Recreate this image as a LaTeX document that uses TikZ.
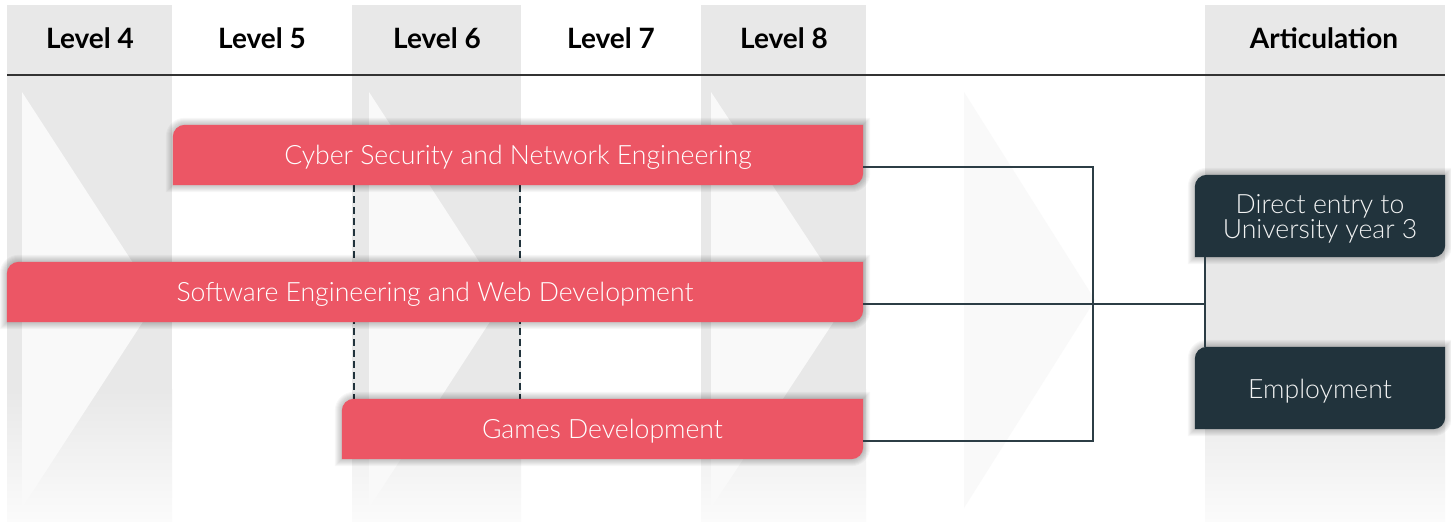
\documentclass[tikz,border=0pt]{standalone}
\usepackage{fontspec}
\setmainfont{Lato}
\newfontfamily\lightfont{Lato Light}
\definecolor{colgray}{HTML}{E8E8E8}
\definecolor{colbot}{HTML}{FBFBFB}
\definecolor{trifill}{HTML}{F9F9F9}
\definecolor{pinkc}{HTML}{EC5665}
\definecolor{darkc}{HTML}{21333C}
\definecolor{linec}{HTML}{2C3D45}
\pgfdeclarelayer{back}
\pgfdeclarelayer{boxes}
\pgfsetlayers{back,boxes,main}
\newcommand\leafpath[2]{% node name, enlargement
  ([xshift=-#2pt,yshift=-#2pt]#1.south west) -- ([xshift=-#2pt,yshift=-12pt]#1.north west)
    arc[start angle=180,end angle=90,radius={12pt+#2pt}] -- ([xshift=#2pt,yshift=#2pt]#1.north east)
    -- ([xshift=#2pt,yshift=12pt]#1.south east)
    arc[start angle=0,end angle=-90,radius={12pt+#2pt}] -- cycle}
\newcommand\leaffill[2]{%
  \foreach \e in {1,2,...,7}{%
    \fill[black, opacity=0.03, xshift=2pt, yshift=-5pt] \leafpath{#1}{\e};}
  \fill[#2] \leafpath{#1}{0};}
\newcommand\levelcol[2]{%
  \fill[colgray] (#1,5) rectangle (#2,390);
  \shade[top color=colgray, bottom color=colbot] (#1,389.5) rectangle (#2,522);}
\newcommand\chev[2]{%
  \fill[trifill] (#1,92) -- (#2,300) -- (#1,508) -- cycle;}
\begin{document}
\begin{tikzpicture}[x=1pt,y=-1pt,
  hdr/.style={font=\bfseries\fontsize{28}{32}\selectfont, text=black, inner sep=0pt},
  prog/.style={minimum height=60pt, inner sep=0pt, text=white, text height=22pt, text depth=4pt, font=\lightfont\fontsize{26.6}{30}\selectfont},
  outc/.style={minimum height=82pt, minimum width=250pt, inner sep=0pt, text=white!94!darkc, align=center, font=\lightfont\fontsize{26.6}{25}\selectfont},
  conn/.style={draw=linec, line width=2pt},
  dashconn/.style={draw=darkc, line width=2.2pt, dash pattern=on 7pt off 4pt},
]
\useasboundingbox (0,0) rectangle (1451,522);

% columns and chevrons
\begin{pgfonlayer}{back}
  \fill[white] (0,0) rectangle (1451,522);
  \levelcol{7}{172}
  \levelcol{352}{521}
  \levelcol{701}{866}
  \levelcol{1205}{1445}
  \chev{22}{157}
  \chev{369}{504}
  \chev{711}{848}
  \chev{964}{1095}
  \draw[line width=1.2pt, draw=black!80] (7,75) -- (1445,75);
\end{pgfonlayer}

% headers
\node[hdr] (h4) at (90,38) {Level 4};
\node[hdr] (h5) at (262,38) {Level 5};
\node[hdr] (h6) at (437,38) {Level 6};
\node[hdr] (h7) at (611,38) {Level 7};
\node[hdr] (h8) at (784,38) {Level 8};
\node[hdr] (ha) at (1324,38) {Articulation};

% programme boxes
\node[prog, minimum width=690pt] (cyber) at (518,155) {Cyber Security and Network Engineering};
\node[prog, minimum width=856pt] (soft) at (435,292) {Software Engineering and Web Development};
\node[prog, minimum width=521pt] (games) at (602.5,429) {Games Development};

% outcome boxes
\node[outc, text height=50pt, text depth=6pt] (direct) at (1320,216) {Direct entry to\\University year 3};
\node[outc, text height=23.5pt, text depth=3pt] (employ) at (1320,388) {Employment};

\coordinate (jb) at (1093,441);
\coordinate (bar) at (1205,304);
\coordinate (dl) at (354,0);
\coordinate (dr) at (520,0);

\begin{pgfonlayer}{boxes}
  \draw[dashconn] (cyber.south -| dl) -- (games.north -| dl);
  \draw[dashconn] (cyber.south -| dr) -- (games.north -| dr);
  \leaffill{cyber}{pinkc}
  \leaffill{soft}{pinkc}
  \leaffill{games}{pinkc}
  \leaffill{direct}{darkc}
  \leaffill{employ}{darkc}
\end{pgfonlayer}

% connectors
\draw[conn] ([yshift=-12pt]cyber.east) -| (jb) -- ([yshift=-12pt]games.east);
\draw[conn] ([yshift=-12pt]soft.east) -- (bar);
\draw[conn] (direct.south -| bar) -- (employ.north -| bar);
\end{tikzpicture}
\end{document}
